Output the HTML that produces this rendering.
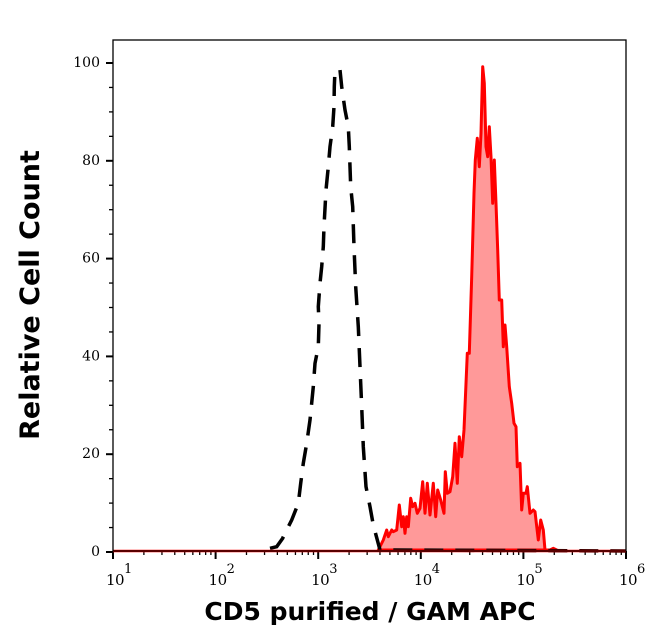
<!DOCTYPE html>
<html><head><meta charset="utf-8"><style>
html,body{margin:0;padding:0;background:#fff;}
svg{display:block;}
</style></head><body>
<svg id="s" width="646" height="641" xmlns="http://www.w3.org/2000/svg">
<rect x="0" y="0" width="646" height="641" fill="#fff"/>
<g id="ticks" stroke="#000" stroke-width="1.3"></g>
<path id="red" fill="#ff9999" stroke="#ff0000" stroke-width="3" stroke-linejoin="round"/>
<path id="blk" fill="none" stroke="#000" stroke-width="3.5" stroke-dasharray="19,12"/>
<line x1="113" y1="551" x2="626" y2="551" stroke="#ff0000" stroke-width="2.5"/>
<rect x="113" y="40" width="513" height="511" fill="none" stroke="#000" stroke-width="1.3"/>
<g font-family="'DejaVu Serif','Liberation Serif',serif" font-size="14" fill="#000" id="lbl"></g>
<text x="370" y="620" text-anchor="middle" font-family="'DejaVu Sans','Liberation Sans',sans-serif" font-weight="bold" font-size="25">CD5 purified / GAM APC</text>
<text transform="translate(39,295) rotate(-90)" text-anchor="middle" font-family="'DejaVu Sans','Liberation Sans',sans-serif" font-weight="bold" font-size="27">Relative Cell Count</text>
</svg>
<script>
var red=[[25,1500],[40,1470],[50,1440],[55,1460],[65,1440],[70,1445],[80,1440],[88,1365],[95,1430],[100,1400],[105,1450],[110,1400],[115,1430],[122,1345],[128,1370],[135,1360],[142,1390],[150,1375],[158,1295],[165,1390],[172,1300],[180,1395],[190,1300],[197,1400],[203,1320],[212,1350],[222,1390],[226,1265],[232,1330],[240,1325],[248,1280],[255,1180],[262,1300],[268,1160],[275,1220],[282,1140],[292,910],[298,910],[305,680],[312,430],[316,330],[322,265],[328,350],[333,250],[338,50],[343,100],[348,290],[353,320],[358,230],[363,320],[368,460],[373,330],[378,460],[383,600],[388,750],[395,750],[400,890],[405,825],[410,890],[418,1010],[425,1060],[432,1120],[438,1130],[442,1250],[450,1240],[455,1380],[460,1330],[468,1330],[472,1310],[480,1390],[490,1380],[495,1385],[505,1470],[512,1410],[520,1440],[525,1500],[540,1500],[550,1495],[560,1500]];
var d="M"+red.map(function(p){return (370+p[0]/3).toFixed(1)+","+Math.min(551,50+p[1]/3).toFixed(1)}).join(" L")+" Z";
document.getElementById("red").setAttribute("d",d);
var blk=[[30,1495],[50,1490],[68,1465],[70,1460],[95,1410],[115,1360],[122,1300],[130,1240],[140,1180],[150,1110],[160,1010],[165,940],[175,890],[177,820],[175,770],[180,700],[185,650],[190,590],[192,530],[198,420],[205,350],[210,290],[218,230],[222,170],[223,110],[225,60],[240,60],[245,110],[255,180],[265,230],[268,290],[270,350],[272,410],[278,470],[282,590],[287,710],[295,830],[300,950],[305,1070],[310,1190],[318,1310],[330,1370],[340,1425],[360,1500]];
var d2="M"+blk.map(function(p){return (260+p[0]/3).toFixed(1)+","+(50+p[1]/3).toFixed(1)}).join(" L")+" L626,551";
document.getElementById("blk").setAttribute("d",d2);
var t=document.getElementById("ticks"),L=document.getElementById("lbl"),h="",l="";
for(var v=0;v<=100;v+=5){var y=552-v*4.89;var len=(v%20==0)?7:4;h+='<line x1="'+(113-len)+'" y1="'+y+'" x2="113" y2="'+y+'" stroke-width="'+(v%20==0?2:1.3)+'"/>';
if(v%20==0)l+='<text x="100" y="'+(y+4)+'" text-anchor="end">'+v+'</text>';}
for(var e=1;e<=6;e++){var x=113+(e-1)*102.6;h+='<line x1="'+x+'" y1="551" x2="'+x+'" y2="559" stroke-width="2"/>';
l+='<text x="'+(x+2)+'" y="585" text-anchor="middle" font-size="15" letter-spacing="-0.5">10</text><text x="'+(x+11)+'" y="573" font-size="13">'+e+'</text>';
if(e<6)for(var k=2;k<10;k++){var xx=x+Math.log10(k)*102.6;h+='<line x1="'+xx+'" y1="551" x2="'+xx+'" y2="555"/>';}}
t.innerHTML=h;L.innerHTML=l;
</script>
</body></html>
